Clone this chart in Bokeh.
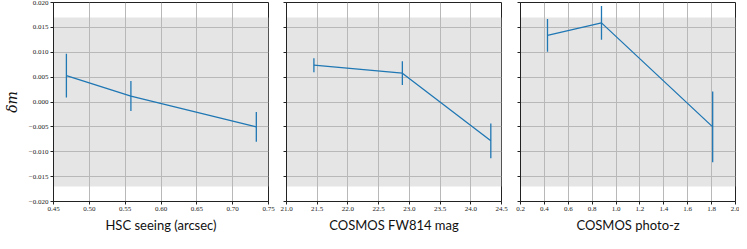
from bokeh.plotting import figure
from bokeh.layouts import row
from bokeh.models import BoxAnnotation, FixedTicker, CustomJSTickFormatter, ColumnDataSource
from bokeh.embed import file_html
from bokeh.resources import INLINE

# ---- data ----
seeing_x = [0.468, 0.558, 0.733]
seeing_y = [0.0053, 0.0012, -0.0050]
seeing_err = [0.0044, 0.0030, 0.0030]

mag_x = [21.446, 22.886, 24.326]
mag_y = [0.0074, 0.0058, -0.0078]
mag_err = [0.0014, 0.0024, 0.0035]

z_x = [0.426, 0.878, 1.809]
z_y = [0.0134, 0.0159, -0.0050]
z_err = [0.0033, 0.0034, 0.0071]

band = [-0.017, 0.017]
y_ticks = [-0.020, -0.015, -0.010, -0.005, 0.000, 0.005, 0.010, 0.015, 0.020]
seeing_ticks = [0.45, 0.50, 0.55, 0.60, 0.65, 0.70, 0.75]
mag_ticks = [21.0, 21.5, 22.0, 22.5, 23.0, 23.5, 24.0, 24.5]
z_ticks = [0.2, 0.4, 0.6, 0.8, 1.0, 1.2, 1.4, 1.6, 1.8, 2.0]

BLUE = "#1f77b4"
TICK_FONT = "Liberation Serif"
LABEL_FONT = "Lato"


def fmt(decimals, blank=False):
    if blank:
        return CustomJSTickFormatter(code="return '';")
    return CustomJSTickFormatter(
        code=f"return tick.toFixed({decimals}).replace('-', '\\u2212');")


def panel(xs, ys, errs, xr, xticks, xdec, xlabel, left, right, first):
    p = figure(frame_width=215, frame_height=199, x_range=xr, y_range=(-0.02, 0.02),
               output_backend="svg", toolbar_location=None,
               min_border_left=left, min_border_right=right,
               min_border_top=2, min_border_bottom=30)
    p.background_fill_color = "white"
    p.outline_line_color = "#222222"
    p.outline_line_width = 1
    p.add_layout(BoxAnnotation(bottom=band[0], top=band[1], fill_color="#e5e5e5",
                               fill_alpha=1.0, line_color=None, level="image"))
    p.xgrid.grid_line_color = "#b8b8b8"
    p.ygrid.grid_line_color = "#b8b8b8"
    p.xgrid.grid_line_width = 1
    p.ygrid.grid_line_width = 1
    p.xaxis.ticker = FixedTicker(ticks=xticks)
    p.yaxis.ticker = FixedTicker(ticks=y_ticks)
    p.xaxis.formatter = fmt(xdec)
    p.yaxis.formatter = fmt(3, blank=not first)
    for ax in (p.xaxis[0], p.yaxis[0]):
        ax.axis_line_color = "#222222"
        ax.major_tick_line_color = "#222222"
        ax.major_tick_out = 3
        ax.major_tick_in = 0
        ax.minor_tick_line_color = None
        ax.major_label_text_font = TICK_FONT
        ax.major_label_text_font_size = "7px"
        ax.major_label_text_color = "#222222"
        ax.major_label_standoff = 2
    if not first:
        p.yaxis.major_label_standoff = 0
        p.yaxis.major_label_text_font_size = "1px"
    p.xaxis.axis_label = xlabel
    p.xaxis.axis_label_text_font = LABEL_FONT
    p.xaxis.axis_label_text_font_size = "13px"
    p.xaxis.axis_label_text_font_style = "normal"
    p.xaxis.axis_label_text_color = "#111111"
    p.xaxis.axis_label_standoff = 3
    if first:
        p.yaxis.axis_label = "δm"
        p.yaxis.axis_label_text_font = "DejaVu Serif"
        p.yaxis.axis_label_text_font_size = "14px"
        p.yaxis.axis_label_text_font_style = "italic"
        p.yaxis.axis_label_text_color = "#111111"
        p.yaxis.axis_label_standoff = 6
    src = ColumnDataSource(dict(
        x=xs, y=ys,
        lo=[y - e for y, e in zip(ys, errs)],
        hi=[y + e for y, e in zip(ys, errs)]))
    p.line("x", "y", source=src, line_color=BLUE, line_width=1.3)
    p.segment(x0="x", y0="lo", x1="x", y1="hi", source=src,
              line_color=BLUE, line_width=1.3)
    return p


p1 = panel(seeing_x, seeing_y, seeing_err, (0.45, 0.75), seeing_ticks, 2,
           "HSC seeing (arcsec)", 41, 8, True)
p2 = panel(mag_x, mag_y, mag_err, (21.0, 24.5), mag_ticks, 1,
           "COSMOS FW814 mag", 10, 9, False)
p3 = panel(z_x, z_y, z_err, (0.2, 2.0), z_ticks, 1,
           "COSMOS photo-z", 10, 4, False)

layout = row(p1, p2, p3, spacing=0)
open("out.html", "w").write(file_html(layout, INLINE))
